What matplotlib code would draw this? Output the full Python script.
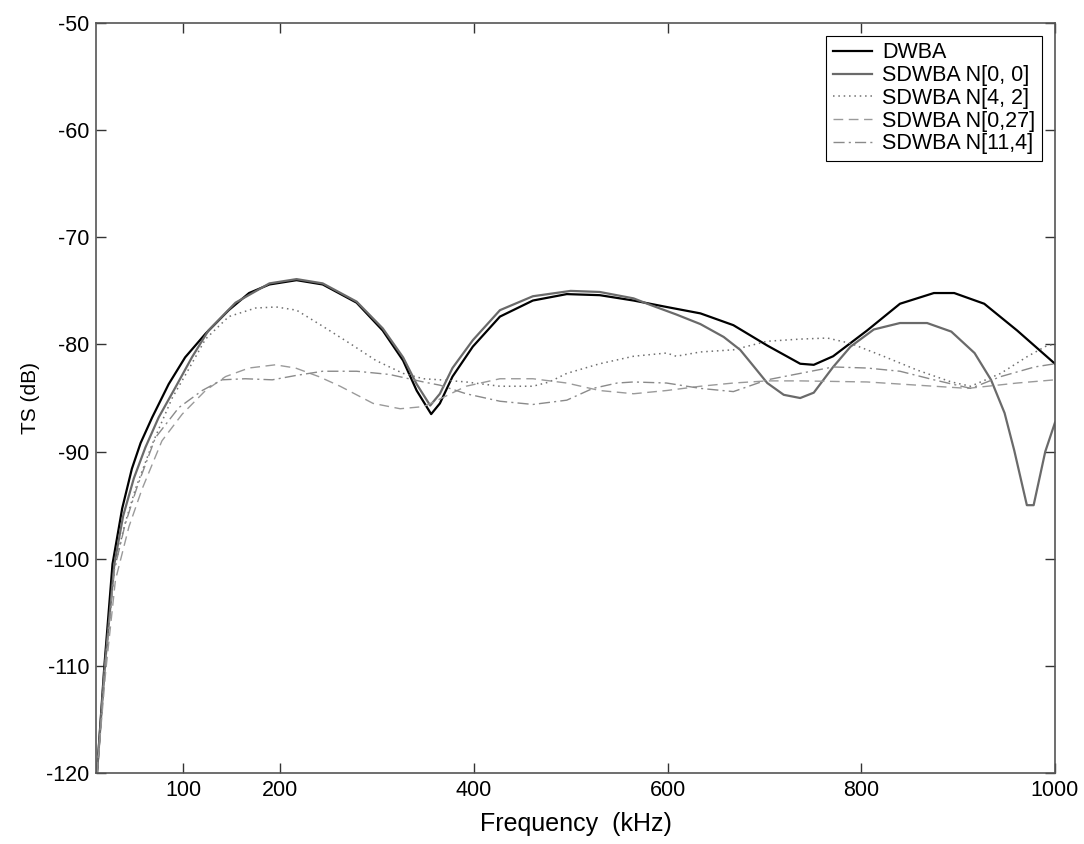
import matplotlib.pyplot as plt

plt.rcParams['font.family'] = ['Liberation Sans', 'DejaVu Sans']
plt.rcParams['axes.unicode_minus'] = False

# DWBA
f_dwba = [11, 18.6, 27, 37, 47, 56, 68, 85, 102, 123, 147, 168, 189, 217, 244, 279, 306, 327, 341,
          356, 365, 378, 399, 427, 461, 496, 530, 565, 599, 634, 668, 703, 737, 751, 771, 806, 840, 875, 896,
          927, 961, 1000]
ts_dwba = [-120, -110, -100.5, -95.3, -91.6, -89.2, -86.8, -83.7, -81.2, -79.0, -76.8, -75.2, -74.4, -74.0,
           -74.4, -76.1, -78.7, -81.5, -84.3, -86.5, -85.5, -83.0, -80.2, -77.4, -75.9, -75.3, -75.4, -75.9,
           -76.5, -77.1, -78.2, -80.1, -81.8, -81.9, -81.1, -78.7, -76.2, -75.2, -75.2, -76.2, -78.7, -81.8]

# SDWBA N[0, 0]
f_n00 = [11, 18.6, 28.9, 38, 49, 61, 74.7, 92, 109, 126, 154, 189, 217, 244, 279, 306, 327, 341, 355, 365,
         378, 399, 427, 461, 500, 530, 565, 582, 609, 634, 658, 675, 685, 703, 720, 737, 751, 771, 789, 813,
         840, 868, 893, 917, 934, 948, 958, 971, 978, 990, 1000]
ts_n00 = [-120, -110.5, -100.5, -96.0, -92.5, -89.6, -86.8, -84.0, -81.2, -78.7, -76.1, -74.3, -73.9, -74.3,
          -76.0, -78.5, -81.2, -83.7, -85.7, -84.6, -82.2, -79.6, -76.8, -75.5, -75.0, -75.1, -75.7, -76.3,
          -77.2, -78.1, -79.3, -80.5, -81.6, -83.6, -84.7, -85.0, -84.5, -82.1, -80.2, -78.6, -78.0, -78.0,
          -78.8, -80.8, -83.3, -86.4, -89.9, -95.0, -95.0, -90.0, -87.3]

# SDWBA N[4, 2]
f_n42 = [11, 18.6, 28.9, 39, 50.6, 68, 88.6, 105.7, 123, 147, 174.7, 196, 217, 244, 272, 299, 327, 348, 365,
         392, 427, 461, 478, 496, 530, 565, 599, 609, 634, 668, 703, 737, 765, 789, 823, 858, 893, 913, 944,
         972, 992, 1000]
ts_n42 = [-120, -110.5, -101.0, -97.0, -93.5, -89.3, -85.0, -82.3, -79.5, -77.4, -76.6, -76.5, -76.8, -78.3,
          -79.9, -81.5, -82.7, -83.2, -83.3, -83.5, -83.9, -83.9, -83.5, -82.7, -81.8, -81.1, -80.8, -81.1,
          -80.7, -80.5, -79.7, -79.5, -79.4, -79.9, -81.1, -82.4, -83.5, -83.9, -82.7, -81.1, -80.1, -80.0]

# SDWBA N[0,27]
f_n027 = [11, 20, 30, 44, 57.5, 78, 99, 123, 143.7, 167.8, 195, 216, 240, 262, 296, 324, 348, 358, 392, 427,
          461, 496, 530, 565, 599, 634, 668, 703, 737, 806, 858, 910, 961, 1000]
ts_n027 = [-120, -110.5, -102, -97, -93.5, -89.0, -86.5, -84.3, -83.0, -82.2, -81.9, -82.2, -83.0, -83.9,
           -85.5, -86.0, -85.8, -85.4, -83.9, -83.2, -83.2, -83.6, -84.3, -84.6, -84.3, -83.9, -83.6, -83.4,
           -83.4, -83.5, -83.8, -84.1, -83.6, -83.3]

# SDWBA N[11,4]
f_n114 = [11, 19, 29, 40, 52.4, 71.3, 95.4, 119.6, 140, 164, 192, 216, 244, 279, 313, 348, 365, 392, 427, 461,
          496, 523, 548, 565, 599, 634, 668, 703, 737, 771, 806, 840, 875, 913, 944, 979, 1000]
ts_n114 = [-120, -110.3, -101, -96.8, -93.3, -88.7, -85.9, -84.3, -83.3, -83.2, -83.3, -82.9, -82.5, -82.5,
           -82.8, -83.5, -83.8, -84.6, -85.3, -85.6, -85.2, -84.1, -83.6, -83.5, -83.6, -84.1, -84.4, -83.3,
           -82.7, -82.1, -82.2, -82.5, -83.3, -84.1, -83.0, -82.1, -81.8]

xticks = [100, 200, 400, 600, 800, 1000]

fig = plt.figure(figsize=(10.84, 8.44), dpi=100)
ax = fig.add_axes([0.0886, 0.0841, 0.8846, 0.8886])

ax.plot(f_dwba, ts_dwba, color='black', lw=1.6, label='DWBA')
ax.plot(f_n00, ts_n00, color='#6a6a6a', lw=1.6, label='SDWBA N[0, 0]')
ax.plot(f_n42, ts_n42, color='#707070', lw=1.1, ls=(0, (1, 2.5)), label='SDWBA N[4, 2]')
ax.plot(f_n027, ts_n027, color='#9a9a9a', lw=1.0, ls=(0, (7, 4)), label='SDWBA N[0,27]')
ax.plot(f_n114, ts_n114, color='#8a8a8a', lw=1.0, ls=(0, (8, 3, 1.5, 3)), label='SDWBA N[11,4]')

ax.set_xlim(10, 1000)
ax.set_ylim(-120, -50)
ax.set_xticks(xticks)
ax.set_yticks(range(-120, -49, 10))
ax.tick_params(direction='in', length=7, width=1, top=True, right=True, labelsize=15.5, pad=5, color='#333333')
for s in ax.spines.values():
    s.set_color('#555555')
    s.set_linewidth(1.2)

ax.set_xlabel('Frequency  (kHz)', fontsize=18, labelpad=8)
ax.set_ylabel('TS (dB)', fontsize=15, labelpad=4)

leg = ax.legend(loc='upper right', fontsize=15.5, fancybox=False, framealpha=1, edgecolor='black',
                handlelength=1.8, handletextpad=0.5, labelspacing=0.08, borderpad=0.3, borderaxespad=0.6)
leg.get_frame().set_linewidth(0.8)

fig.savefig('out.png', dpi=100)
